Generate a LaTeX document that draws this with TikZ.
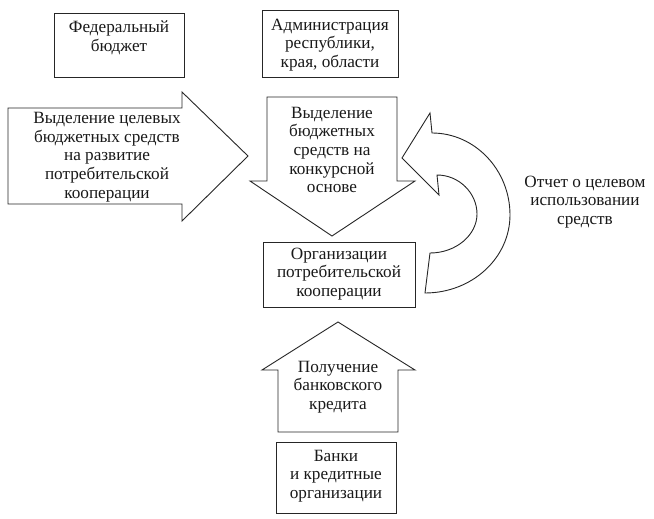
\documentclass[tikz,border=0pt]{standalone}
\usepackage{fontspec}
\setmainfont{Liberation Serif}
\begin{document}
\begin{tikzpicture}[x=1pt,y=-1pt,
  shp/.style={draw=black!85,line width=0.9pt,fill=white,line join=miter},
  txt/.style={align=center,font=\fontsize{17.2}{18.6}\selectfont,inner sep=0pt,text=black!90}]
\useasboundingbox (0,0) rectangle (654,519);
% top boxes
\draw[shp] (54,13) rectangle (184,77);
\node[txt] (fed) at (119,38) {Федеральный\\бюджет};
\draw[shp] (262,10) rectangle (398,77);
\node[txt] (adm) at (330,45) {Администрация\\республики,\\края, области};
% left arrow
\draw[shp] (8,108) -- (182,108) -- (182,92) -- (248,156) -- (182,221) -- (182,204) -- (8,204) -- cycle;
\node[txt] (left) at (107,157) {Выделение целевых\\бюджетных средств\\на развитие\\потребительской\\кооперации};
% down arrow
\draw[shp] (267,97) -- (397,97) -- (397,181) -- (415,181) -- (332,236) -- (250,181) -- (267,181) -- cycle;
\node[txt] (down) at (332,150) {Выделение\\бюджетных\\средств на\\конкурсной\\основе};
% organisations
\draw[shp] (263,242) rectangle (415,307);
\node[txt] (org) at (339,274) {Организации\\потребительской\\кооперации};
% curved arrow
\draw[shp] (430,113) -- (402,158) -- (439,195) -- (437,175)
  .. controls (459,175) and (477,193) .. (477,214)
  .. controls (477,235) and (456,253) .. (430,253)
  -- (425,293)
  .. controls (472,293) and (510,258) .. (510,215)
  .. controls (510,170) and (475,133) .. (432,133) -- cycle;
\node[txt] (rep) at (585,202) {Отчет о целевом\\использовании\\средств};
% up arrow
\draw[shp] (338,322) -- (415,370) -- (398,370) -- (398,432) -- (278,432) -- (278,370) -- (262,370) -- cycle;
\node[txt] (up) at (338,387) {Получение\\банковского\\кредита};
% banks
\draw[shp] (276,442) rectangle (396,513);
\node[txt] (bank) at (336,476) {Банки\\и кредитные\\организации};
\end{tikzpicture}
\end{document}
